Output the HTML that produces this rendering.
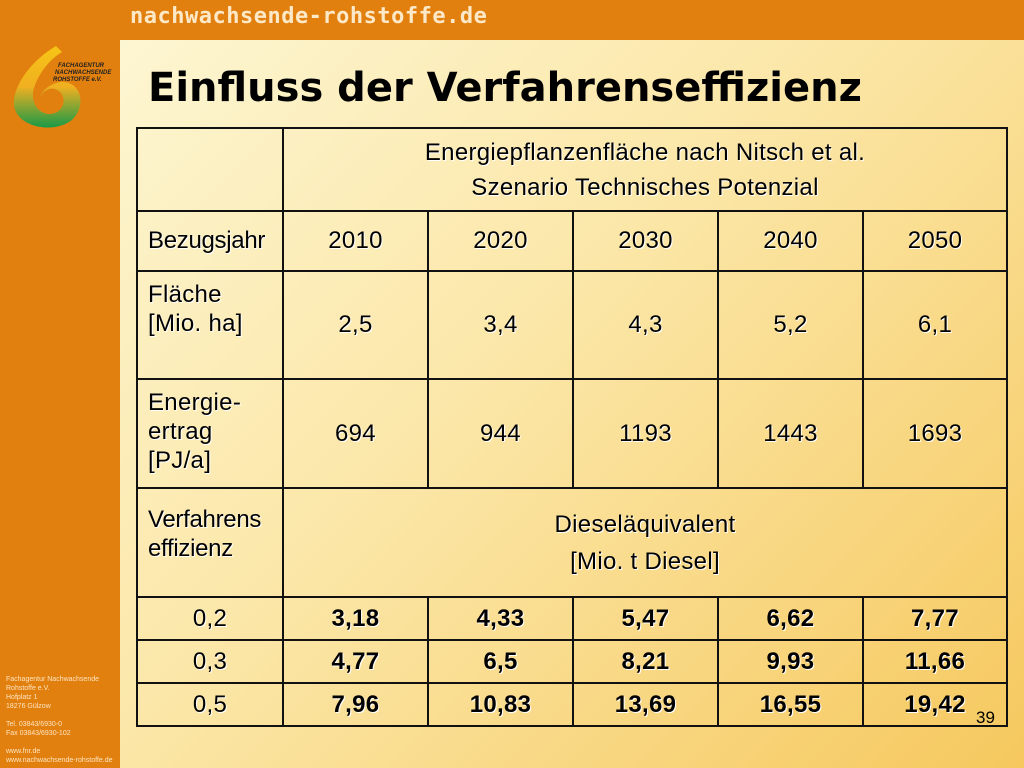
<!DOCTYPE html>
<html><head><meta charset="utf-8"><style>
*{margin:0;padding:0;box-sizing:border-box}
body{width:1024px;height:768px;overflow:hidden;background:#e2800f;font-family:"Liberation Sans",sans-serif;position:relative}
#site{position:absolute;left:130px;top:4px;color:#fde9c8;font-family:"DejaVu Sans Mono","Liberation Mono",monospace;font-size:22px;letter-spacing:0.5px;font-weight:bold}
#content{position:absolute;left:120px;top:40px;width:904px;height:728px;background:linear-gradient(135deg,#fdf6d2 0%,#fbe6a6 45%,#f6c85e 100%)}
h1{position:absolute;left:148px;top:65px;font-size:40px;font-weight:bold;color:#000;font-family:"DejaVu Sans","Liberation Sans",sans-serif;letter-spacing:0px}
table{position:absolute;left:136px;top:127px;border-collapse:collapse;table-layout:fixed}
td{border:2px solid #111;text-align:center;font-size:24px;letter-spacing:0.3px;color:#000;text-shadow:1px 1px 0 #fff;vertical-align:middle;padding:0}
td.l{text-align:left;padding-left:10px;vertical-align:top;padding-top:8px;line-height:29px}
td.b{font-weight:bold}
#side{position:absolute;left:6px;top:675px;color:#fde4c0;font-size:7px;line-height:9px}
#pg{position:absolute;left:976px;top:708px;font-size:17px;color:#000}
</style></head><body>
<div id="site">nachwachsende-rohstoffe.de</div>
<svg style="position:absolute;left:8px;top:40px" width="112" height="92">
<defs><linearGradient id="g" x1="0" y1="0" x2="0" y2="1"><stop offset="0" stop-color="#f7c516"/><stop offset=".5" stop-color="#f0b020"/><stop offset="1" stop-color="#1a9a48"/></linearGradient></defs>
<path d="M48 6 C24 20 4 46 6 66 C10 88 46 94 64 80 C80 64 72 40 52 42 C42 44 34 50 32 58 C36 48 46 46 52 52 C60 60 54 74 42 74 C30 74 22 62 26 48 C32 30 44 18 54 12 Z" fill="url(#g)"/>
<text x="50" y="27" font-size="6" font-weight="bold" font-style="italic" fill="#222">FACHAGENTUR</text>
<text x="47" y="34" font-size="6" font-weight="bold" font-style="italic" fill="#222">NACHWACHSENDE</text>
<text x="45" y="41" font-size="6" font-weight="bold" font-style="italic" fill="#222">ROHSTOFFE e.V.</text>
</svg>
<div id="content"></div>
<h1>Einfluss der Verfahrenseffizienz</h1>
<table>
<colgroup><col style="width:146px"><col style="width:145px"><col style="width:145px"><col style="width:145px"><col style="width:145px"><col style="width:144px"></colgroup>
<tr style="height:83px"><td></td><td colspan="5" style="line-height:35px">Energiepflanzenfläche nach Nitsch et al.<br>Szenario Technisches Potenzial</td></tr>
<tr style="height:60px"><td style="text-align:left;padding-left:10px;letter-spacing:-0.3px">Bezugsjahr</td><td>2010</td><td>2020</td><td>2030</td><td>2040</td><td>2050</td></tr>
<tr style="height:108px"><td class="l">Fläche<br>[Mio. ha]</td><td>2,5</td><td>3,4</td><td>4,3</td><td>5,2</td><td>6,1</td></tr>
<tr style="height:109px"><td class="l">Energie-<br>ertrag<br>[PJ/a]</td><td>694</td><td>944</td><td>1193</td><td>1443</td><td>1693</td></tr>
<tr style="height:109px"><td style="text-align:left;padding-left:10px;line-height:29px;padding-bottom:18px;letter-spacing:-0.3px">Verfahrens<br>effizienz</td><td colspan="5" style="line-height:37px">Dieseläquivalent<br>[Mio. t Diesel]</td></tr>
<tr style="height:43px"><td>0,2</td><td class="b">3,18</td><td class="b">4,33</td><td class="b">5,47</td><td class="b">6,62</td><td class="b">7,77</td></tr>
<tr style="height:43px"><td>0,3</td><td class="b">4,77</td><td class="b">6,5</td><td class="b">8,21</td><td class="b">9,93</td><td class="b">11,66</td></tr>
<tr style="height:43px"><td>0,5</td><td class="b">7,96</td><td class="b">10,83</td><td class="b">13,69</td><td class="b">16,55</td><td class="b">19,42</td></tr>
</table>
<div id="pg">39</div>
<div id="side">Fachagentur Nachwachsende<br>Rohstoffe e.V.<br>Hofplatz 1<br>18276 Gülzow<br><br>Tel. 03843/6930-0<br>Fax 03843/6930-102<br><br>www.fnr.de<br>www.nachwachsende-rohstoffe.de</div>
</body></html>
